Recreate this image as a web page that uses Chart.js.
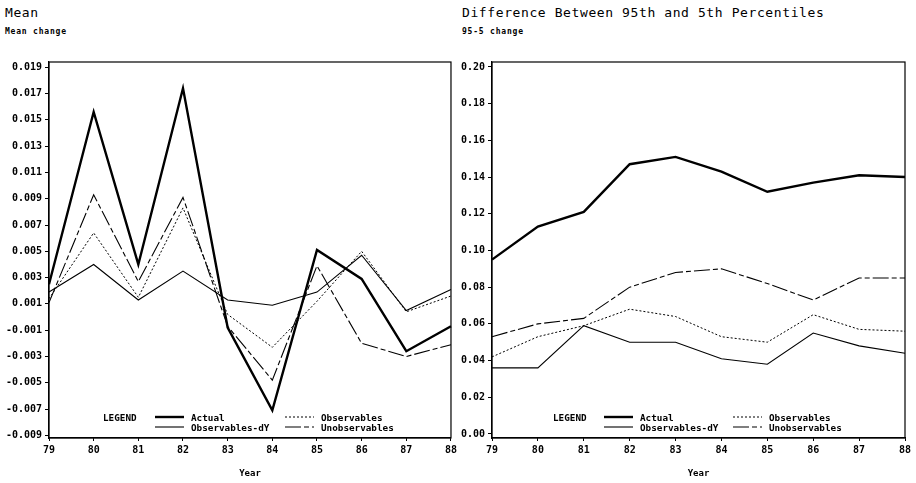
<!DOCTYPE html>
<html>
<head>
<meta charset="utf-8">
<script src="https://cdn.jsdelivr.net/npm/chart.js@4.4.1/dist/chart.umd.min.js"></script>
<style>
  body { margin: 0; background: #fff; }
  #wrap { position: relative; width: 916px; height: 483px; overflow: hidden; }
  canvas { position: absolute; top: 0; }
  .ttl { position: absolute; font-family: "DejaVu Sans Mono", monospace; color: #000; white-space: nowrap; }
  .main { font-size: 13px; line-height: 13px; letter-spacing: 0.6px; top: 6px; }
  .sub { font-size: 8px; line-height: 8px; font-weight: bold; letter-spacing: 0.8px; top: 28px; }
</style>
</head>
<body>
<div id="wrap">
  <div class="ttl main" style="left:5px">Mean</div>
  <div class="ttl sub" style="left:5px">Mean change</div>
  <div class="ttl main" style="left:462px">Difference Between 95th and 5th Percentiles</div>
  <div class="ttl sub" style="left:462px">95-5 change</div>
  <canvas id="meanChart" width="460" height="483" style="left:0"></canvas>
  <canvas id="pctChart" width="456" height="483" style="left:460px"></canvas>
</div>
<script>
// years on the x axis
var years = ['79', '80', '81', '82', '83', '84', '85', '86', '87', '88'];

// left panel: mean change
var meanActual = [0.0025, 0.0156, 0.0040, 0.0174, -0.0008, -0.0071, 0.0051, 0.0029, -0.0026, -0.0007];
var meanObs = [0.0014, 0.0064, 0.0015, 0.0083, 0.0002, -0.0023, 0.0012, 0.0050, 0.0004, 0.0016];
var meanObsDY = [0.0019, 0.0040, 0.0013, 0.0035, 0.0013, 0.0009, 0.0019, 0.0047, 0.0005, 0.0021];
var meanUnobs = [0.0011, 0.0093, 0.0027, 0.0091, -0.0007, -0.0048, 0.0039, -0.0020, -0.0030, -0.0021];
var meanTicks = [-0.009, -0.007, -0.005, -0.003, -0.001, 0.001, 0.003, 0.005, 0.007, 0.009, 0.011, 0.013, 0.015, 0.017, 0.019];

// right panel: 95th - 5th percentile change
var pctActual = [0.095, 0.113, 0.121, 0.147, 0.151, 0.143, 0.132, 0.137, 0.141, 0.140];
var pctObs = [0.042, 0.053, 0.059, 0.068, 0.064, 0.053, 0.050, 0.065, 0.057, 0.056];
var pctObsDY = [0.036, 0.036, 0.059, 0.050, 0.050, 0.041, 0.038, 0.055, 0.048, 0.044];
var pctUnobs = [0.053, 0.060, 0.063, 0.080, 0.088, 0.090, 0.082, 0.073, 0.085, 0.085];
var pctTicks = [0, 0.02, 0.04, 0.06, 0.08, 0.10, 0.12, 0.14, 0.16, 0.18, 0.20];

Chart.defaults.font.family = '"DejaVu Sans Mono", monospace';
Chart.defaults.color = '#000';

// box round the plot + the "LEGEND" block inside it
var boxLegend = {
  id: 'boxLegend',
  afterDraw: function (chart, args, opts) {
    var ctx = chart.ctx, a = chart.chartArea;
    ctx.save();
    ctx.strokeStyle = '#000';
    ctx.lineWidth = 1.2;
    ctx.strokeRect(a.left, a.top, a.right - a.left, a.bottom - a.top);
    ctx.font = 'bold 9.3px "DejaVu Sans Mono"';
    ctx.fillStyle = '#000';
    ctx.textBaseline = 'middle';
    ctx.fillText('LEGEND', a.left + opts.x0, a.bottom - 19);
    chart.data.datasets.forEach(function (ds, i) {
      var x = a.left + (i % 2 ? opts.col2 : opts.col1);
      var y = a.bottom - (i < 2 ? 21 : 11);
      ctx.beginPath();
      ctx.lineWidth = ds.borderWidth;
      ctx.setLineDash(ds.borderDash || []);
      ctx.moveTo(x, y);
      ctx.lineTo(x + 29, y);
      ctx.stroke();
      ctx.setLineDash([]);
      ctx.fillText(ds.label, x + 36, y + 2);
    });
    ctx.restore();
  }
};

function series(label, data, width, dash) {
  return {
    label: label,
    data: data,
    borderColor: '#000',
    borderWidth: width,
    borderDash: dash,
    pointRadius: 0,
    tension: 0,
    fill: false
  };
}

function makeChart(id, sets, ticks, yMin, yMax, decimals, axisW, padRight, legendPos) {
  return new Chart(document.getElementById(id), {
    type: 'line',
    data: { labels: years, datasets: sets },
    options: {
      responsive: false,
      animation: false,
      devicePixelRatio: 1,
      layout: { padding: { left: 0, top: 62, right: padRight, bottom: 0 } },
      plugins: { legend: { display: false }, tooltip: { enabled: false }, boxLegend: legendPos },
      scales: {
        x: {
          offset: false,
          grid: { drawOnChartArea: false, color: '#000', tickLength: 3 },
          border: { color: '#000', width: 1.2 },
          ticks: { font: { size: 10, weight: 'bold' }, padding: 3, maxRotation: 0 },
          title: { display: true, text: 'Year', font: { size: 9, weight: 'bold' }, padding: { top: 0, bottom: 4 } },
          afterFit: function (s) { s.height = 45; }
        },
        y: {
          min: yMin,
          max: yMax,
          grid: { drawOnChartArea: false, color: '#000', tickLength: 4 },
          border: { color: '#000', width: 1.2 },
          ticks: {
            font: { size: 10, weight: 'bold' },
            padding: 3,
            callback: function (v) { return v.toFixed(decimals); }
          },
          afterBuildTicks: function (s) { s.ticks = ticks.map(function (v) { return { value: v }; }); },
          afterFit: function (s) { s.width = axisW; }
        }
      }
    },
    plugins: [boxLegend]
  });
}

makeChart('meanChart', [
  series('Actual', meanActual, 2.4),
  series('Observables', meanObs, 1, [2, 2]),
  series('Observables-dY', meanObsDY, 1.1),
  series('Unobservables', meanUnobs, 1.1, [16, 3, 5, 3])
], meanTicks, -0.0092, 0.0194, 3, 49, 7, { x0: 54, col1: 106, col2: 236 });

makeChart('pctChart', [
  series('Actual', pctActual, 2.4),
  series('Observables', pctObs, 1, [2, 2]),
  series('Observables-dY', pctObsDY, 1.1),
  series('Unobservables', pctUnobs, 1.1, [16, 3, 5, 3])
], pctTicks, -0.0022, 0.2027, 2, 32, 11, { x0: 61, col1: 112, col2: 241 });
</script>
</body>
</html>
